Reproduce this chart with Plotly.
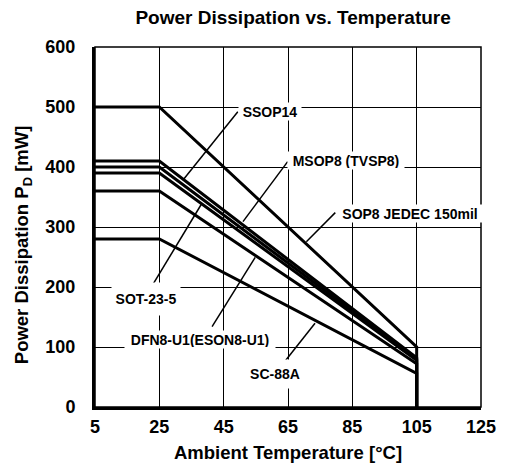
import plotly.graph_objects as go

# Package derating data: flat up to 25 °C, linear to 105 °C, then cut off
packages = ["SOP8 JEDEC 150mil", "SSOP14", "MSOP8 (TVSP8)", "SOT-23-5",
            "DFN8-U1(ESON8-U1)", "SC-88A"]
pd_at_25 = [500, 410, 400, 390, 360, 280]      # mW
pd_at_105 = [100, 82, 80, 78, 72, 56]          # mW
temp_knee = 25
temp_max = 105

x_ticks = [5, 25, 45, 65, 85, 105, 125]
y_ticks = [0, 100, 200, 300, 400, 500, 600]

# Label placement: (text x, text y, leader start x, leader start y, leader end x, leader end y, box w, box h)
label_layout = {
    "SSOP14":            (59.3, 492, 49.4, 492, 32.3, 378, 60, 15),
    "MSOP8 (TVSP8)":     (82.9, 411, 64.9, 409, 51.0, 309, 114, 15),
    "SOP8 JEDEC 150mil": (102.9, 323, 79.7, 324, 70.7, 275.5, 144, 15),
    "SOT-23-5":          (20.8, 180, 23.2, 206, 38.3, 340, 66, 30),
    "DFN8-U1(ESON8-U1)": (37.6, 113, 41.4, 134, 54.8, 249.5, 148, 15),
    "SC-88A":            (61.1, 55, 64.3, 78, 73.4, 139.5, 54, 26),
}

FONT = "Liberation Sans, Arial, sans-serif"

fig = go.Figure()

for name, p25, p105 in zip(packages, pd_at_25, pd_at_105):
    fig.add_trace(go.Scatter(
        x=[x_ticks[0], temp_knee, temp_max, temp_max],
        y=[p25, p25, p105, 0],
        mode="lines", name=name,
        line=dict(color="black", width=3),
        showlegend=False, hoverinfo="skip",
    ))

for name in packages:
    tx, ty, sx, sy, ex, ey, bw, bh = label_layout[name]
    fig.add_trace(go.Scatter(
        x=[sx, ex], y=[sy, ey], mode="lines",
        line=dict(color="black", width=1.5),
        showlegend=False, hoverinfo="skip",
    ))
    fig.add_annotation(
        x=tx, y=ty, xref="x", yref="y", text=name, showarrow=False,
        font=dict(family=FONT, size=14, color="black", weight="bold"),
        bgcolor="white", width=bw, height=bh, borderpad=1,
    )

# Axis titles
fig.add_annotation(
    x=0.5, y=-0.125, xref="paper", yref="paper", xanchor="center", yanchor="middle",
    text="Ambient Temperature [°C]", showarrow=False,
    font=dict(family=FONT, size=18.5, color="black", weight="bold"),
)
fig.add_annotation(
    x=-0.186, y=0.45, xref="paper", yref="paper", xanchor="center", yanchor="middle",
    text="Power Dissipation P<sub>D</sub> [mW]", showarrow=False, textangle=-90,
    font=dict(family=FONT, size=18.5, color="black", weight="bold"),
)

# Thin frame on the top and right edges
fig.add_shape(type="rect", xref="paper", yref="paper", x0=0, y0=0, x1=1, y1=1,
              line=dict(color="black", width=1.5), layer="above")

axis_common = dict(
    showgrid=True, gridcolor="black", gridwidth=1,
    showline=True, linecolor="black", linewidth=3,
    zeroline=False, ticks="",
    tickfont=dict(family=FONT, size=18, color="black", weight="bold"),
)

fig.update_xaxes(range=[5, 125], tickvals=x_ticks, ticktext=[str(v) for v in x_ticks],
                 ticklabelstandoff=1, **axis_common)
fig.update_yaxes(range=[0, 600], tickvals=y_ticks, ticktext=[str(v) for v in y_ticks],
                 ticklabelstandoff=13, **axis_common)

fig.update_layout(
    width=508, height=466,
    margin=dict(l=95, r=17, t=47, b=59),
    paper_bgcolor="white", plot_bgcolor="white",
    title=dict(text="Power Dissipation vs. Temperature", x=0.577, xanchor="center",
               y=0.963, yanchor="middle",
               font=dict(family=FONT, size=19, color="black", weight="bold")),
)

fig.write_html("out.html")
